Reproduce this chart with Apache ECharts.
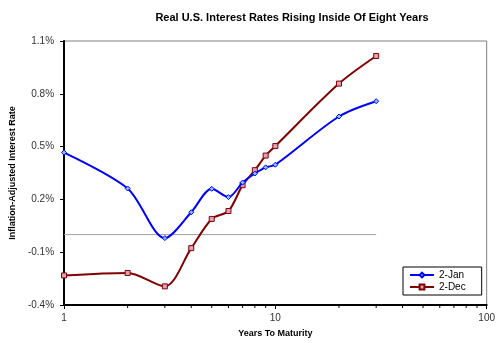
<!DOCTYPE html>
<html>
<head>
<meta charset="utf-8">
<script src="https://cdn.jsdelivr.net/npm/echarts@6/dist/echarts.min.js"></script>
<style>
  html, body { margin: 0; padding: 0; background: #fff; }
  #chart { width: 498px; height: 343px; }
</style>
</head>
<body>
<div id="chart"></div>
<script>
// years to maturity
var years = [1, 2, 3, 4, 5, 6, 7, 8, 9, 10, 20, 30];
// real rates, %
var jan = [0.466, 0.262, -0.02, 0.127, 0.26, 0.213, 0.296, 0.347, 0.382, 0.397, 0.671, 0.758];
var dec = [-0.232, -0.218, -0.294, -0.077, 0.089, 0.134, 0.281, 0.366, 0.449, 0.503, 0.858, 1.015];
var zeroLine = [[1, 0], [30, 0]];
var minorTicks = [2, 3, 4, 5, 6, 7, 8, 9, 20, 30, 40, 50, 60, 70, 80, 90];

function pairs(xs, ys) {
    return xs.map(function (x, i) { return [x, ys[i]]; });
}

var chart = echarts.init(document.getElementById('chart'));

var option = {
    animation: false,
    textStyle: { fontFamily: 'Liberation Sans, Arial, sans-serif' },
    title: {
        text: 'Real U.S. Interest Rates Rising Inside Of Eight Years',
        left: 287,
        textAlign: 'center',
        top: 7,
        textStyle: { fontSize: 11, fontWeight: 'bold', color: '#000' }
    },
    legend: {
        orient: 'vertical',
        left: 403,
        top: 267,
        borderColor: '#000',
        borderWidth: 1,
        padding: [3, 16, 3, 6],
        itemGap: 2,
        itemWidth: 24,
        itemHeight: 6,
        textStyle: { fontSize: 10, color: '#000' },
        data: ['2-Jan', '2-Dec']
    },
    grid: { left: 62, right: 10, top: 41, bottom: 36, show: true, borderColor: '#808080', borderWidth: 1 },
    xAxis: {
        type: 'log',
        logBase: 10,
        min: 1,
        max: 100,
        name: 'Years To Maturity',
        nameLocation: 'middle',
        nameGap: 24,
        nameTextStyle: { fontSize: 9, fontWeight: 'bold', color: '#000' },
        axisLine: { onZero: false, lineStyle: { color: '#000', width: 2 } },
        axisTick: { inside: false, length: 4, lineStyle: { color: '#000' } },
        axisLabel: { fontSize: 10, color: '#333', margin: 8 },
        splitLine: { show: false }
    },
    yAxis: {
        type: 'value',
        min: -0.4,
        max: 1.1,
        interval: 0.3,
        name: 'Inflation-Adjusted Interest Rate',
        nameLocation: 'middle',
        nameGap: 43,
        nameTextStyle: { fontSize: 9, fontWeight: 'bold', color: '#000' },
        axisLine: { show: true, onZero: false, lineStyle: { color: '#000', width: 2 } },
        axisTick: { show: true, length: 4, lineStyle: { color: '#000' } },
        axisLabel: {
            fontSize: 10, color: '#333', margin: 10,
            formatter: function (v) { return v.toFixed(1) + '%'; }
        },
        splitLine: { show: false }
    },
    series: [
        {
            name: 'zero',
            type: 'line',
            data: zeroLine,
            symbol: 'none',
            silent: true,
            lineStyle: { color: '#a0a0a0', width: 1 },
            z: 1
        },
        {
            name: '2-Jan',
            type: 'line',
            data: pairs(years, jan),
            smooth: 0.3,
            symbol: 'diamond',
            symbolSize: 5,
            itemStyle: { color: '#80c0ff', borderColor: '#0000ff', borderWidth: 1 },
            lineStyle: { color: '#0000ff', width: 2 },
            z: 3
        },
        {
            name: '2-Dec',
            type: 'line',
            data: pairs(years, dec),
            smooth: 0.3,
            symbol: 'rect',
            symbolSize: 5,
            itemStyle: { color: '#e0a0b8', borderColor: '#800000', borderWidth: 1 },
            lineStyle: { color: '#800000', width: 2 },
            z: 2
        },
        {
            name: 'minor',
            type: 'custom',
            silent: true,
            clip: false,
            data: minorTicks.map(function (t) { return [t, -0.4]; }),
            renderItem: function (params, api) {
                var p = api.coord([api.value(0), api.value(1)]);
                return {
                    type: 'line',
                    shape: { x1: p[0], y1: p[1], x2: p[0], y2: p[1] + 3 },
                    style: { stroke: '#000', lineWidth: 1 }
                };
            }
        }
    ]
};

chart.setOption(option);
</script>
</body>
</html>
